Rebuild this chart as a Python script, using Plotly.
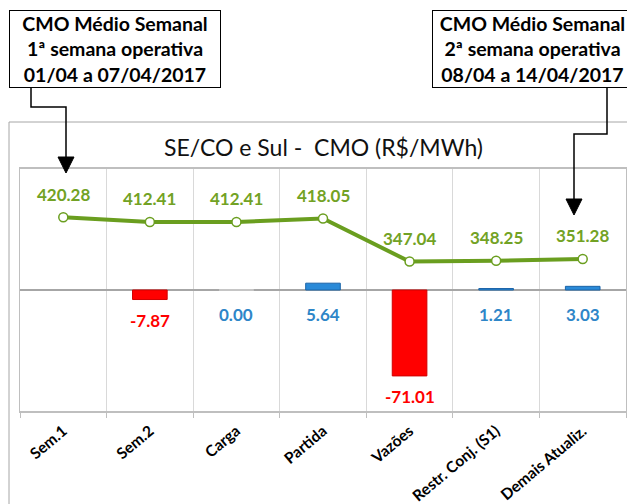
import plotly.graph_objects as go

categories = ["Sem.1", "Sem.2", "Carga", "Partida", "Vazões", "Restr. Conj. (S1)", "Demais Atualiz."]
cmo_values = [420.28, 412.41, 412.41, 418.05, 347.04, 348.25, 351.28]
delta_values = [None, -7.87, 0.00, 5.64, -71.01, 1.21, 3.03]

title_text = "SE/CO e Sul -  CMO (R$/MWh)"
box_left_text = "CMO Médio Semanal<br>1ª semana operativa<br>01/04 a 07/04/2017"
box_right_text = "CMO Médio Semanal<br>2ª semana operativa<br>08/04 a 14/04/2017"

# the page body has an 8px default margin, so the figure is drawn 8px in
OFF = 8
W, H = 635, 504
PL, PR, PT, PB = 20, 626, 169, 411   # plot area in screen pixels
PW = PR - PL
PH = PB - PT


def px(x):
    return (x - PL) / PW


def py(y):
    return (PB - y) / PH


GREEN = "#6A9E1F"
GREEN_TXT = "#72A224"
RED = "#FF0000"
BLUE = "#2A8AD8"
BLUE_TXT = "#2E86C8"
FONT = "Lato"

bar_colors = []
bar_lines = []
for v in delta_values:
    if v is None or v == 0:
        bar_colors.append("#E6E6E6")
        bar_lines.append("#D0D0D0")
    elif v < 0:
        bar_colors.append(RED)
        bar_lines.append("#D00000")
    else:
        bar_colors.append(BLUE)
        bar_lines.append("#1B64A8")

fig = go.Figure()
fig.add_trace(go.Bar(
    x=categories, y=delta_values, width=0.4,
    marker=dict(color=bar_colors, line=dict(color=bar_lines, width=1)),
    yaxis="y", hoverinfo="skip", showlegend=False,
))
fig.add_trace(go.Scatter(
    x=categories, y=cmo_values, mode="lines+markers",
    line=dict(color=GREEN, width=4),
    marker=dict(size=9, color="white", line=dict(color=GREEN, width=1.5)),
    yaxis="y2", hoverinfo="skip", showlegend=False,
))

annotations = []
for c, v in zip(categories, cmo_values):
    annotations.append(dict(
        x=c, y=v, xref="x", yref="y2", text=f"{v:.2f}", showarrow=False,
        xanchor="center", yanchor="middle",
        yshift=23, font=dict(family=FONT, size=17, color=GREEN_TXT, weight="bold"),
    ))
for c, v in zip(categories, delta_values):
    if v is None:
        continue
    if v < 0:
        annotations.append(dict(
            x=c, y=v, xref="x", yref="y", text=f"{v:.2f}", showarrow=False,
            xanchor="center", yanchor="middle",
            yshift=-21, font=dict(family=FONT, size=17, color=RED, weight="bold"),
        ))
    else:
        annotations.append(dict(
            x=c, y=0, xref="x", yref="y", text=f"{v:.2f}", showarrow=False,
            xanchor="center", yanchor="middle",
            yshift=-24, font=dict(family=FONT, size=17, color=BLUE_TXT, weight="bold"),
        ))

annotations.append(dict(
    x=px(323), y=py(147), xref="paper", yref="paper", text=title_text,
    xanchor="center", yanchor="middle",
    showarrow=False, font=dict(family=FONT, size=23, color="#111111"),
))
annotations.append(dict(
    x=px(115), y=py(49), xref="paper", yref="paper", text=box_left_text,
    xanchor="center", yanchor="middle",
    showarrow=False, width=210, height=76, borderpad=0, bordercolor="#000000",
    borderwidth=1, bgcolor="white",
    font=dict(family=FONT, size=19.5, color="#000000", weight="bold"),
))
annotations.append(dict(
    x=px(532.5), y=py(49), xref="paper", yref="paper", text=box_right_text,
    xanchor="center", yanchor="middle",
    showarrow=False, width=199, height=76, borderpad=0, bordercolor="#000000",
    borderwidth=1, bgcolor="white",
    font=dict(family=FONT, size=19.5, color="#000000", weight="bold"),
))


def path(points, close=False):
    s = "M " + " L ".join(f"{px(x)},{py(y)}" for x, y in points)
    return s + (" Z" if close else "")


shapes = [
    # outer chart frame
    dict(type="rect", xref="paper", yref="paper", x0=px(9), x1=px(632),
         y0=py(122), y1=py(520), line=dict(color="#A6A6A6", width=1), layer="below"),
    # left connector
    dict(type="path", xref="paper", yref="paper",
         path=path([(31, 88), (31, 107), (66, 107), (66, 160)]),
         line=dict(color="#000000", width=1.5)),
    dict(type="path", xref="paper", yref="paper",
         path=path([(58, 157), (74, 157), (66, 173)], close=True),
         fillcolor="#000000", line=dict(color="#000000", width=1)),
    # right connector
    dict(type="path", xref="paper", yref="paper",
         path=path([(607, 88), (607, 134), (574, 134), (574, 202)]),
         line=dict(color="#000000", width=1.5)),
    dict(type="path", xref="paper", yref="paper",
         path=path([(566, 199), (582, 199), (574, 215)], close=True),
         fillcolor="#000000", line=dict(color="#000000", width=1)),
]

fig.update_layout(
    width=W - OFF, height=H - OFF,
    margin=dict(l=PL - OFF, r=W - PR, t=PT - OFF, b=H - PB, autoexpand=False),
    paper_bgcolor="white", plot_bgcolor="white",
    showlegend=False, bargap=0.6,
    annotations=annotations, shapes=shapes,
    xaxis=dict(
        type="category", tickson="boundaries", showgrid=True, gridcolor="#D9D9D9",
        gridwidth=1, ticks="outside", ticklen=5, tickcolor="#BFBFBF",
        showline=True, linecolor="#BFBFBF", linewidth=2, mirror=True,
        tickangle=-40, ticklabelstandoff=3,
        tickfont=dict(family=FONT, size=15.5, color="#000000", weight="bold"),
        automargin=False, range=[-0.5, 6.5],
    ),
    yaxis=dict(
        range=[-100, 100], showgrid=False, showticklabels=False, ticks="",
        zeroline=True, zerolinecolor="#A6A6A6", zerolinewidth=1.5,
        showline=True, linecolor="#BFBFBF", linewidth=1, mirror=True,
        automargin=False,
    ),
    yaxis2=dict(
        range=[100, 500], overlaying="y", visible=False,
    ),
)

fig.write_html("out.html")
